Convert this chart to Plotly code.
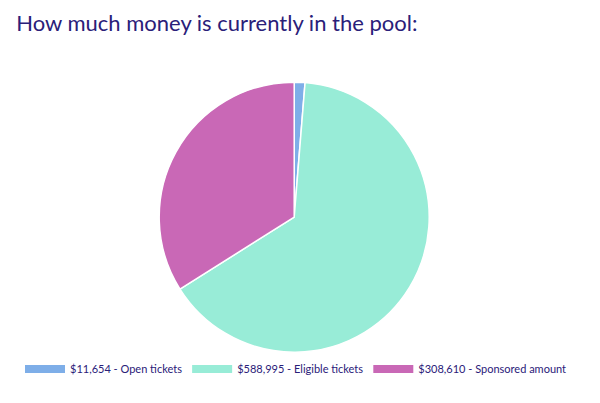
import plotly.graph_objects as go

labels = ["$11,654 - Open tickets", "$588,995 - Eligible tickets", "$308,610 - Sponsored amount"]
values = [11654, 588995, 308610]
colors = ["#7eaee8", "#98ecd7", "#c968b6"]

text_color = "#2a2079"

fig = go.Figure()
fig.add_trace(go.Pie(
    labels=labels, values=values, sort=False, direction="clockwise", rotation=0,
    marker=dict(colors=colors, line=dict(color="white", width=1.5)),
    textinfo="none", hoverinfo="label+percent", showlegend=False,
    domain=dict(x=[0.252, 0.702], y=[0.146, 0.816]),
))
for lab, col in zip(labels, colors):
    fig.add_trace(go.Scatter(x=[None], y=[None], mode="lines", name=lab,
                             line=dict(color=col, width=8)))

fig.update_layout(
    width=600, height=403,
    margin=dict(l=0, r=0, t=0, b=0),
    paper_bgcolor="white", plot_bgcolor="white",
    title=dict(text="How much money is currently in the pool:", x=0.0137, xanchor="left",
               y=0.98, yanchor="top",
               font=dict(family="Lato", size=22, color=text_color)),
    xaxis=dict(visible=False), yaxis=dict(visible=False),
    legend=dict(orientation="h", x=0.02, xanchor="left", y=0.14, yanchor="top",
                itemwidth=40,
                font=dict(family="Lato", size=11, color=text_color),
                itemclick=False, bgcolor="rgba(0,0,0,0)"),
)
fig.write_html("out.html")
